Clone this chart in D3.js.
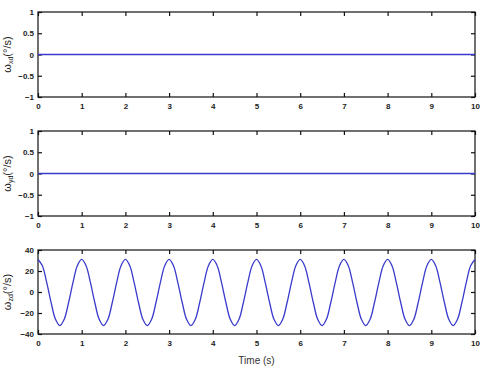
<!DOCTYPE html>
<html lang="en">
<head>
<meta charset="UTF-8">
<title>Angular rate</title>
<script src="https://cdn.jsdelivr.net/npm/d3@7"></script>
<style>
    body { margin: 0; background: #fff; }
    text { font-family: Arial, "Liberation Sans", sans-serif; }
</style>
</head>
<body>
<svg width="484" height="373"></svg>
<script>
    // data
    var xTicks = [0, 1, 2, 3, 4, 5, 6, 7, 8, 9, 10];
    var yTicksSmall = [-1, -0.5, 0, 0.5, 1];
    var yTicksBig = [-40, -20, 0, 20, 40];
    var labels = ["xd", "yd", "zd"];

    // omega_xd and omega_yd stay at zero
    var timeFlat = [0, 10];
    var wxd = [0, 0];
    var wyd = [0, 0];

    // omega_zd sampled every 0.1 s
    var timeZ = d3.range(0, 101).map(function(i){ return i / 10; });
    var wzd = [
        31, 25, 9, -10, -26, -32, -26, -10, 9, 25,
        31, 25, 9, -10, -26, -32, -26, -10, 9, 25,
        31, 25, 9, -10, -26, -32, -26, -10, 9, 25,
        31, 25, 9, -10, -26, -32, -26, -10, 9, 25,
        31, 25, 9, -10, -26, -32, -26, -10, 9, 25,
        31, 25, 9, -10, -26, -32, -26, -10, 9, 25,
        31, 25, 9, -10, -26, -32, -26, -10, 9, 25,
        31, 25, 9, -10, -26, -32, -26, -10, 9, 25,
        31, 25, 9, -10, -26, -32, -26, -10, 9, 25,
        31, 25, 9, -10, -26, -32, -26, -10, 9, 25,
        31
    ];

    var svg = d3.select("svg");
    var left = 38, right = 475;
    var panels = [
        {top: 12, bottom: 97, domain: [-1, 1], ticks: yTicksSmall, t: timeFlat, v: wxd, label: labels[0]},
        {top: 131, bottom: 216, domain: [-1, 1], ticks: yTicksSmall, t: timeFlat, v: wyd, label: labels[1]},
        {top: 250, bottom: 334, domain: [-40, 40], ticks: yTicksBig, t: timeZ, v: wzd, label: labels[2]}
    ];

    var x = d3.scaleLinear().domain([0, 10]).range([left, right]);

    panels.forEach(function(p){
        var y = d3.scaleLinear().domain(p.domain).range([p.bottom, p.top]);
        var h = p.bottom - p.top, w = right - left;
        var g = svg.append("g");

        // frame first, everything else on top
        g.append("rect")
            .attr("x", left).attr("y", p.top)
            .attr("width", w).attr("height", h)
            .attr("fill", "none").attr("stroke", "#111").attr("stroke-width", 1.2);

        // inward ticks all round, MATLAB style box
        var leftAxis = d3.axisLeft(y).tickValues(p.ticks).tickSize(-4).tickPadding(4).tickFormat(d3.format("~g"));
        var rightAxis = d3.axisRight(y).tickValues(p.ticks).tickSize(-4).tickFormat("");
        var bottomAxis = d3.axisBottom(x).tickValues(xTicks).tickSize(-4).tickPadding(6).tickFormat(d3.format("d"));
        var topAxis = d3.axisTop(x).tickValues(xTicks).tickSize(-4).tickFormat("");

        var al = g.append("g").attr("transform", "translate(" + left + ",0)").call(leftAxis);
        var ar = g.append("g").attr("transform", "translate(" + right + ",0)").call(rightAxis);
        var ab = g.append("g").attr("transform", "translate(0," + p.bottom + ")").call(bottomAxis);
        var at = g.append("g").attr("transform", "translate(0," + p.top + ")").call(topAxis);

        [al, ar, ab, at].forEach(function(a){
            a.select(".domain").remove();
            a.selectAll(".tick line").attr("stroke", "#111").attr("stroke-width", 1.2);
            a.selectAll(".tick text").attr("font-size", 8).attr("font-weight", "bold").attr("fill", "#222");
        });

        var line = d3.line()
            .x(function(d, i){ return x(p.t[i]); })
            .y(function(d){ return y(d); })
            .curve(d3.curveCatmullRom);

        g.append("path")
            .datum(p.v)
            .attr("d", line)
            .attr("fill", "none")
            .attr("stroke", "#3a3acc")
            .attr("stroke-width", 1.3);

        // y label, kept clear of the tick labels
        var cy = (p.top + p.bottom) / 2;
        var lab = g.append("text")
            .attr("transform", "translate(11," + cy + ") rotate(-90)")
            .attr("text-anchor", "middle")
            .attr("font-size", 11)
            .attr("fill", "#222");
        lab.append("tspan").text("\u03c9");
        lab.append("tspan").attr("font-size", 7).attr("dy", 2).text(p.label);
        lab.append("tspan").attr("dy", -2).text("(\u00b0/s)");
    });

    svg.append("text")
        .attr("x", (left + right) / 2)
        .attr("y", 364)
        .attr("text-anchor", "middle")
        .attr("font-size", 10)
        .attr("fill", "#333")
        .text("Time (s)");
</script>
</body>
</html>
